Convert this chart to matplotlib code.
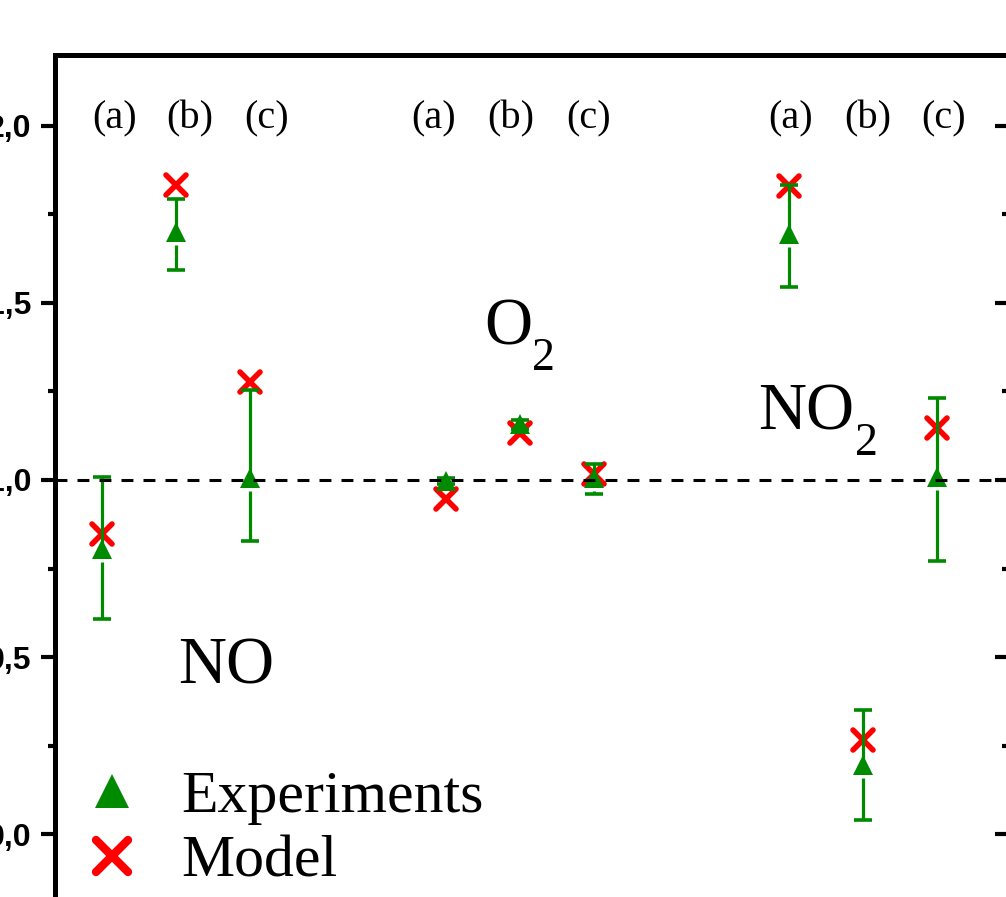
import matplotlib
matplotlib.use("Agg")
import matplotlib.pyplot as plt
from matplotlib.lines import Line2D
from matplotlib.markers import MarkerStyle
from matplotlib.ticker import FixedLocator, FixedFormatter, AutoMinorLocator

# ---- data -------------------------------------------------------------
species_main = ["NO", "O", "NO"]
species_sub = ["", "2", "2"]
cases = ["(a)", "(b)", "(c)"]

# experiments (ratio) with lower / upper ends of the error bars
exp_values = [0.805, 1.700, 1.006, 0.997, 1.158, 1.005, 1.695, 0.195, 1.008]
exp_low = [0.607, 1.593, 0.828, 0.990, 1.143, 0.960, 1.545, 0.040, 0.771]
exp_high = [1.008, 1.794, 1.254, 1.005, 1.170, 1.045, 1.833, 0.350, 1.232]
model_values = [0.847, 1.833, 1.277, 0.946, 1.133, 1.017, 1.830, 0.266, 1.147]

y_ticks = [0.0, 0.5, 1.0, 1.5, 2.0]
y_tick_labels = ["0,0", "0,5", "1,0", "1,5", "2,0"]

# ---- layout -----------------------------------------------------------
W, H, DPI = 1006, 897, 100
AX_L, AX_R, AX_T, AX_B = 55, 1009, 55, 905   # axes box in pixels
GROUP_STEP = 4.64                             # x distance between species
X_MIN = 0.361
X_MAX = X_MIN + (AX_R - AX_L) / 74.0
Y_MIN, Y_MAX = -0.2, 2.2

GREEN = "#008a00"
RED = "#ff0000"
SERIF = "Liberation Serif"

xs = [g * GROUP_STEP + k + 1 for g in range(3) for k in range(3)]


def ax_frac(px, py):
    """Pixel position on the canvas -> axes fraction."""
    return (px - AX_L) / (AX_R - AX_L), (AX_B - py) / (AX_B - AX_T)


fig = plt.figure(figsize=(W / DPI, H / DPI), dpi=DPI)
ax = fig.add_axes([AX_L / W, 1 - AX_B / H, (AX_R - AX_L) / W, (AX_B - AX_T) / H])
ax.set_xlim(X_MIN, X_MAX)
ax.set_ylim(Y_MIN, Y_MAX)

# break in the lower whisker right under the triangle (y units)
px_per_unit = (AX_B - AX_T) / (Y_MAX - Y_MIN)
gap = 13.0 / px_per_unit

# model
x_marker = MarkerStyle("x", capstyle="round")
ax.plot(xs, model_values, ls="none", marker=x_marker, ms=15, mew=4.0,
        color=RED, zorder=3)

# experiments: whiskers, caps and markers
for x, y, lo, hi in zip(xs, exp_values, exp_low, exp_high):
    ax.vlines(x, y, hi, color=GREEN, lw=2.3, zorder=4)
    if lo < y - gap:
        ax.vlines(x, lo, y - gap, color=GREEN, lw=2.3, zorder=4)
ax.plot(xs, exp_high, ls="none", marker="_", ms=13, mew=2.6, color=GREEN, zorder=4)
ax.plot(xs, exp_low, ls="none", marker="_", ms=13, mew=2.6, color=GREEN, zorder=4)
ax.plot(xs, exp_values, ls="none", marker="^", ms=14.5, mew=0, color=GREEN, zorder=5)

# reference line at unity
ax.axhline(1.0, color="black", lw=2.2, ls=(0, (3.9, 3.3)), zorder=6)

# case labels
case_px = [[115, 190, 267], [434, 511, 589], [791, 868, 944]]
for row in case_px:
    for px, lab in zip(row, cases):
        ax.text(*ax_frac(px, 128), lab, transform=ax.transAxes, ha="center",
                va="baseline", fontsize=29, family=SERIF)

# species labels
main_pos = [(226, 683), (508, 345), (806, 430)]
sub_pos = [None, (543, 370), (866, 455)]
for name, sub, mp, sp in zip(species_main, species_sub, main_pos, sub_pos):
    ax.text(*ax_frac(*mp), name, transform=ax.transAxes, ha="center",
            va="baseline", fontsize=48, family=SERIF)
    if sub:
        ax.text(*ax_frac(*sp), sub, transform=ax.transAxes, ha="center",
                va="baseline", fontsize=33, family=SERIF)

# legend
handles = [
    Line2D([], [], ls="none", marker="^", ms=24, mew=0, color=GREEN),
    Line2D([], [], ls="none", marker=MarkerStyle("x", capstyle="round"),
           ms=23, mew=6, color=RED),
]
ax.legend(handles, ["Experiments", "Model"], loc="upper left",
          bbox_to_anchor=ax_frac(82, 770), frameon=False,
          prop={"family": SERIF, "size": 43}, handlelength=1.0,
          handletextpad=0.67, borderpad=0, borderaxespad=0, labelspacing=0.17)

# axes frame and ticks
for sp in ax.spines.values():
    sp.set_linewidth(3.6)
ax.set_xticks([])
ax.yaxis.set_major_locator(FixedLocator(y_ticks))
ax.yaxis.set_major_formatter(FixedFormatter(y_tick_labels))
ax.yaxis.set_minor_locator(AutoMinorLocator(2))
ax.tick_params(axis="y", which="major", direction="out", length=10, width=3,
               pad=7, labelsize=23)
ax.tick_params(axis="y", which="minor", direction="out", length=5, width=3)
for lab in ax.get_yticklabels():
    lab.set_fontfamily("Liberation Sans")
    lab.set_fontweight("bold")

ax_r = ax.twinx()
ax_r.set_ylim(Y_MIN, Y_MAX)
ax_r.yaxis.set_major_locator(FixedLocator(y_ticks))
ax_r.yaxis.set_minor_locator(AutoMinorLocator(2))
ax_r.tick_params(axis="y", which="major", direction="in", length=10, width=3,
                 labelright=False)
ax_r.tick_params(axis="y", which="minor", direction="in", length=5, width=3)
for sp in ax_r.spines.values():
    sp.set_linewidth(3.6)

fig.savefig("out.png", dpi=DPI)
